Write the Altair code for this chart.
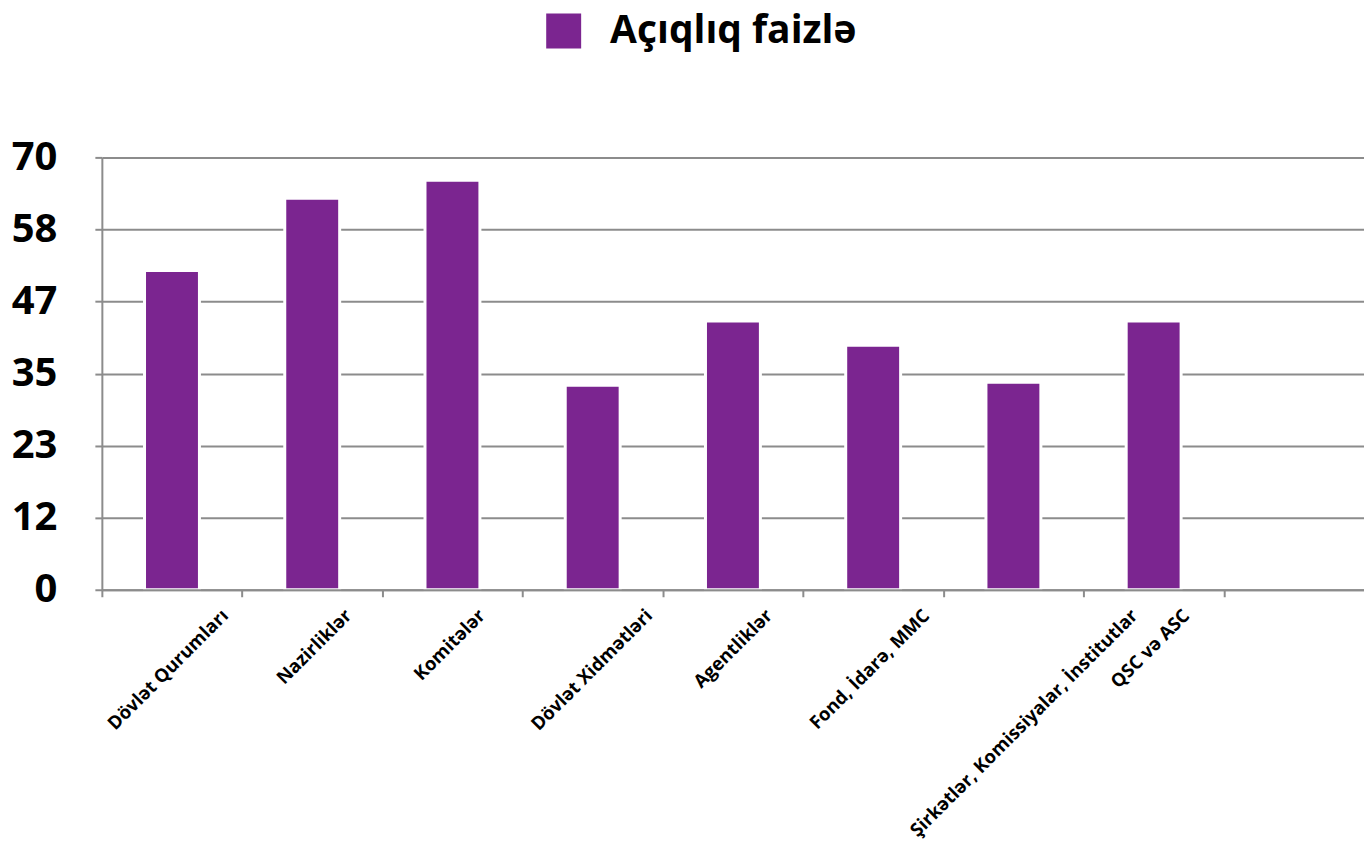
import altair as alt
import pandas as pd

categories = [
    "Dövlət Qurumları",
    "Nazirliklər",
    "Komitələr",
    "Dövlət Xidmətləri",
    "Agentliklər",
    "Fond, İdarə, MMC",
    "Şirkətlər, Komissiyalar, İnstitutlar",
    "QSC və ASC",
]
values = [51.7, 63.4, 66.3, 33.1, 43.5, 39.6, 33.6, 43.5]
series_name = "Açıqlıq faizlə"
y_ticks = [0, 70 / 6, 140 / 6, 35, 280 / 6, 350 / 6, 70]

df = pd.DataFrame({"kateqoriya": categories, "faiz": values, "seriya": [series_name] * len(categories)})

FONT = "Open Sans"
GRID = "#8c8c8c"
PURPLE = "#7b2590"

chart = (
    alt.Chart(df)
    .mark_bar(size=55, stroke="white", strokeWidth=3)
    .encode(
        x=alt.X(
            "kateqoriya:N",
            sort=categories,
            scale=alt.Scale(paddingInner=0, paddingOuter=0.5, align=0),
            axis=alt.Axis(
                title=None,
                labelAngle=315,
                labelAlign="right",
                labelBaseline="top",
                labelFont=FONT,
                labelFontSize=18.5,
                labelFontWeight="bold",
                labelColor="black",
                labelPadding=9,
                labelLimit=600,
                labelOffset=alt.ExprRef(expr="3.4*length(datum.label)-8"),
                tickBand="extent",
                tickSize=7,
                tickWidth=2,
                tickColor=GRID,
                domainColor=GRID,
                domainWidth=2,
                zindex=1,
            ),
        ),
        y=alt.Y(
            "faiz:Q",
            scale=alt.Scale(domain=[0, 70], nice=False),
            axis=alt.Axis(
                title=None,
                values=y_ticks,
                format=".0f",
                labelFont=FONT,
                labelFontSize=40,
                labelFontWeight="bold",
                labelColor="black",
                labelPadding=38,
                tickSize=7,
                tickWidth=2,
                tickColor=GRID,
                domainColor=GRID,
                domainWidth=2,
                gridColor=GRID,
                gridWidth=2,
                zindex=0,
            ),
        ),
        color=alt.Color(
            "seriya:N",
            scale=alt.Scale(domain=[series_name], range=[PURPLE]),
            legend=alt.Legend(
                title=None,
                orient="none",
                legendX=443,
                legendY=-146,
                padding=0,
                symbolType="square",
                symbolSize=1225,
                symbolStrokeWidth=0,
                symbolOpacity=1,
                labelFont=FONT,
                labelFontSize=39,
                labelFontWeight="bold",
                labelColor="black",
                labelOffset=27,
                labelLimit=600,
            ),
        ),
    )
    .properties(
        width=1264,
        height=433,
        autosize=alt.AutoSizeParams(type="none"),
        padding={"left": 94, "top": 149, "right": 0, "bottom": 257},
    )
    .configure_view(stroke=None)
)

chart.save("out.html", embed_options={"renderer": "svg", "actions": False})
